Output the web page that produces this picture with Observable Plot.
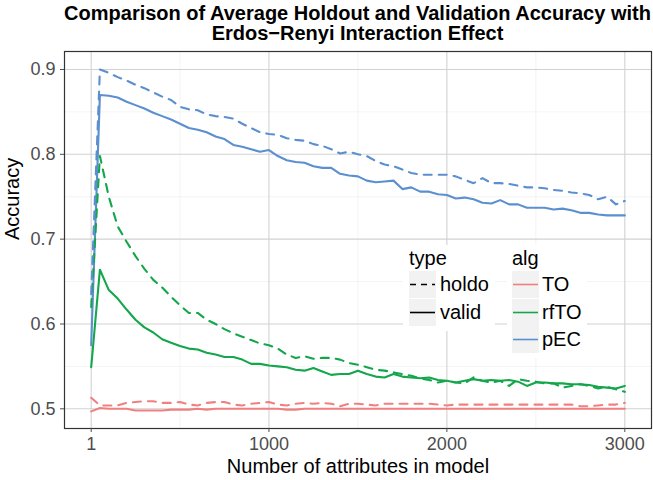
<!DOCTYPE html>
<html><head><meta charset="utf-8">
<script src="https://cdn.jsdelivr.net/npm/d3@7"></script>
<script src="https://cdn.jsdelivr.net/npm/@observablehq/plot@0.6"></script>
<style>
body{margin:0;background:#fff;font-family:"Liberation Sans",Arial,Helvetica,sans-serif;}
#wrap{position:relative;width:653px;height:480px;overflow:hidden;}
#title{position:absolute;left:64px;top:3px;width:587px;text-align:center;font-weight:bold;font-size:20px;line-height:20px;color:#000;}
.lb{position:absolute;background:#fff;}
.lt{position:absolute;font-size:20px;line-height:22px;color:#000;}
.key{position:absolute;width:27px;height:27px;background:#f2f2f2;}
.kl{position:absolute;font-size:20px;line-height:27px;color:#000;}
</style></head><body>
<div id="wrap">
<div id="chart"></div>
<div id="title">Comparison of Average Holdout and Validation Accuracy with<br>Erdos−Renyi Interaction Effect</div>
<div id="legend"></div>
</div>
<script>
const xs = [1,50,100,150,200,250,300,350,400,450,500,550,600,650,700,750,800,850,900,950,1000,1050,1100,1150,1200,1250,1300,1350,1400,1450,1500,1550,1600,1650,1700,1750,1800,1850,1900,1950,2000,2050,2100,2150,2200,2250,2300,2350,2400,2450,2500,2550,2600,2650,2700,2750,2800,2850,2900,2950,3000];

const algs = ["TO","rfTO","pEC"];
const types = ["holdo","valid"];
const algColors = ["#f08080","#13a64b","#5b8fd0"];

const pEC_holdo = [0.635,0.900,0.896,0.891,0.887,0.882,0.878,0.873,0.868,0.864,0.856,0.853,0.852,0.847,0.845,0.844,0.842,0.836,0.831,0.826,0.824,0.823,0.819,0.817,0.816,0.812,0.810,0.806,0.801,0.803,0.800,0.798,0.792,0.788,0.786,0.782,0.778,0.776,0.776,0.776,0.776,0.774,0.770,0.766,0.772,0.766,0.766,0.765,0.763,0.761,0.761,0.760,0.758,0.757,0.755,0.754,0.752,0.747,0.750,0.741,0.745];
const pEC_valid = [0.575,0.870,0.869,0.867,0.862,0.858,0.854,0.849,0.845,0.841,0.836,0.831,0.829,0.826,0.821,0.818,0.811,0.809,0.806,0.803,0.805,0.798,0.793,0.791,0.790,0.786,0.784,0.784,0.777,0.775,0.774,0.769,0.767,0.768,0.769,0.759,0.761,0.756,0.756,0.753,0.752,0.748,0.749,0.747,0.743,0.742,0.746,0.741,0.741,0.737,0.737,0.737,0.735,0.736,0.734,0.731,0.731,0.729,0.728,0.728,0.728];
const rfTO_holdo = [0.620,0.798,0.750,0.715,0.697,0.680,0.665,0.652,0.643,0.632,0.622,0.613,0.613,0.605,0.600,0.594,0.589,0.585,0.581,0.577,0.575,0.571,0.564,0.560,0.562,0.559,0.560,0.560,0.558,0.554,0.552,0.549,0.546,0.545,0.543,0.541,0.539,0.536,0.534,0.531,0.533,0.531,0.530,0.537,0.533,0.531,0.533,0.527,0.535,0.533,0.532,0.530,0.530,0.525,0.527,0.529,0.527,0.524,0.526,0.523,0.520];
const rfTO_valid = [0.549,0.664,0.640,0.630,0.617,0.605,0.596,0.590,0.582,0.578,0.574,0.571,0.570,0.566,0.564,0.561,0.561,0.558,0.553,0.553,0.551,0.550,0.549,0.546,0.545,0.548,0.544,0.540,0.541,0.541,0.545,0.541,0.538,0.537,0.541,0.538,0.537,0.536,0.537,0.534,0.533,0.531,0.533,0.535,0.533,0.534,0.533,0.534,0.532,0.527,0.531,0.531,0.530,0.530,0.529,0.529,0.528,0.526,0.525,0.524,0.527];
const TO_holdo = [0.513,0.504,0.504,0.504,0.507,0.508,0.509,0.509,0.507,0.507,0.508,0.505,0.504,0.507,0.508,0.508,0.505,0.504,0.506,0.507,0.508,0.505,0.504,0.506,0.507,0.506,0.507,0.506,0.503,0.506,0.506,0.505,0.504,0.506,0.506,0.506,0.506,0.506,0.506,0.505,0.504,0.505,0.505,0.505,0.505,0.505,0.505,0.505,0.505,0.505,0.505,0.505,0.505,0.505,0.505,0.503,0.503,0.504,0.505,0.505,0.507];
const TO_valid = [0.497,0.501,0.500,0.500,0.500,0.498,0.498,0.498,0.498,0.499,0.499,0.499,0.500,0.499,0.500,0.500,0.500,0.500,0.500,0.500,0.500,0.500,0.499,0.499,0.500,0.500,0.500,0.500,0.500,0.500,0.500,0.500,0.500,0.500,0.500,0.500,0.500,0.500,0.500,0.500,0.500,0.500,0.500,0.500,0.500,0.500,0.500,0.500,0.500,0.500,0.500,0.500,0.500,0.500,0.500,0.500,0.500,0.500,0.500,0.500,0.500];

const xTicks = [1,1000,2000,3000];
const xMinor = [500,1500,2500];
const yTicks = [0.5,0.6,0.7,0.8,0.9];
const yMinor = [0.55,0.65,0.75,0.85];
const xLabel = "Number of attributes in model";
const yLabel = "Accuracy";

const series = {TO_holdo, TO_valid, rfTO_holdo, rfTO_valid, pEC_holdo, pEC_valid};
const rows = [];
for (const a of algs) for (const t of types) {
  const vals = series[a + "_" + t];
  xs.forEach((x, i) => rows.push({x, y: vals[i], alg: a, type: t}));
}

const plot = Plot.plot({
  width: 653, height: 480,
  marginTop: 51, marginBottom: 52, marginLeft: 64, marginRight: 2,
  style: {fontFamily: '"Liberation Sans", Arial, sans-serif', background: "#fff"},
  x: {domain: [-149, 3150], label: null},
  y: {domain: [0.4768, 0.9212], label: null},
  color: {domain: algs, range: algColors},
  marks: [
    Plot.ruleX(xMinor, {stroke: "#ebebeb", strokeWidth: 0.6}),
    Plot.ruleY(yMinor, {stroke: "#ebebeb", strokeWidth: 0.6}),
    Plot.ruleX(xTicks, {stroke: "#d2d2d2", strokeWidth: 1.1}),
    Plot.ruleY(yTicks, {stroke: "#d2d2d2", strokeWidth: 1.1}),
    Plot.line(rows.filter(d => d.type === "valid"), {x: "x", y: "y", z: "alg", stroke: "alg", strokeWidth: 2.1}),
    Plot.line(rows.filter(d => d.type === "holdo"), {x: "x", y: "y", z: "alg", stroke: "alg", strokeWidth: 2.1, strokeDasharray: "8,7"}),
    Plot.frame({stroke: "#333", strokeWidth: 1.2}),
    Plot.axisY({ticks: yTicks, tickFormat: d => d.toFixed(1), tickSize: 4, tickPadding: 5, fontSize: 18, color: "#4d4d4d", label: null}),
    Plot.axisX({ticks: xTicks, tickFormat: d => String(d), tickSize: 4, tickPadding: 5, fontSize: 18, color: "#4d4d4d", label: null}),
    Plot.text([yLabel], {frameAnchor: "left", dx: -52, rotate: -90, fontSize: 20, fill: "#000"}),
    Plot.text([xLabel], {frameAnchor: "bottom", dy: 44, fontSize: 20, fill: "#000"})
  ]
});
document.getElementById("chart").appendChild(plot);

// Legends (HTML)
const L = document.getElementById("legend");
function add(html){ L.insertAdjacentHTML("beforeend", html); }
add('<div class="lb" style="left:403px;top:245px;width:92px;height:86px"></div>');
add('<div class="lb" style="left:507px;top:245px;width:80px;height:113px"></div>');
add('<div class="lt" style="left:409px;top:247px">type</div>');
add('<div class="lt" style="left:512px;top:247px">alg</div>');
const keyTops = [271, 298.5, 326];
types.forEach((t, i) => {
  const dash = t === "holdo" ? 'stroke-dasharray="6,5"' : '';
  add(`<div class="key" style="left:409px;top:${keyTops[i]}px"><svg width="27" height="27"><line x1="1" x2="26" y1="13.5" y2="13.5" stroke="#000" stroke-width="1.6" ${dash}/></svg></div>`);
  add(`<div class="kl" style="left:440px;top:${keyTops[i]}px">${t}</div>`);
});
algs.forEach((a, i) => {
  add(`<div class="key" style="left:512px;top:${keyTops[i]}px"><svg width="27" height="27"><line x1="1" x2="26" y1="13.5" y2="13.5" stroke="${algColors[i]}" stroke-width="1.6"/></svg></div>`);
  add(`<div class="kl" style="left:542px;top:${keyTops[i]}px">${a}</div>`);
});
</script>
</body></html>
